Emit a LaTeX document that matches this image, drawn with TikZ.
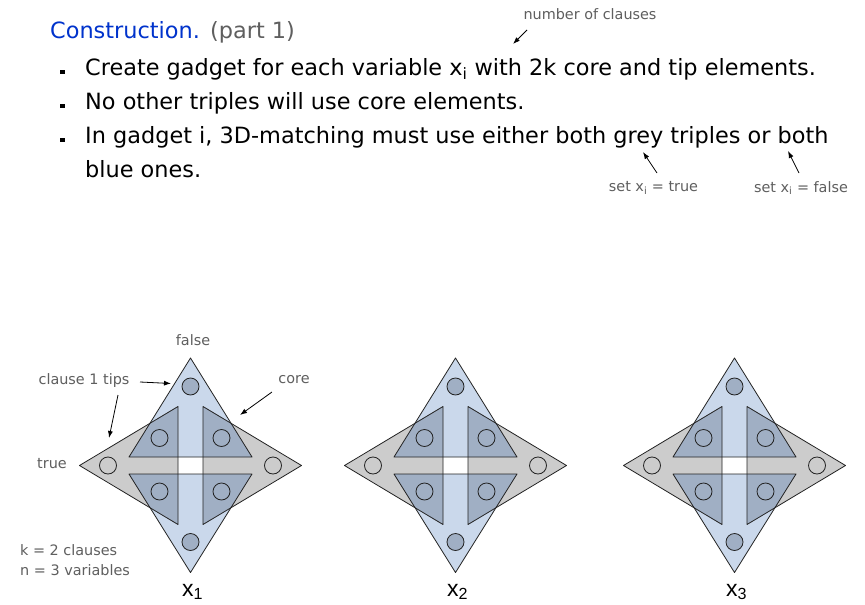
\documentclass[tikz,border=0pt]{standalone}
\usepackage{fontspec}
\setmainfont{DejaVu Sans}
\newfontfamily\arialf{Liberation Sans}
\usetikzlibrary{arrows.meta}
\definecolor{ltblue}{RGB}{202,216,235}
\definecolor{ltgray}{RGB}{204,204,204}
\definecolor{dkblue}{RGB}{160,175,196}
\definecolor{titleblue}{RGB}{0,51,204}
\definecolor{txtgray}{RGB}{95,95,95}
\definecolor{edgecol}{RGB}{35,35,35}
\tikzset{
  bigtext/.style={font=\fontsize{22.4}{24}\selectfont, text=black, inner sep=0pt, anchor=base west},
  smalltext/.style={font=\fontsize{14.4}{16}\selectfont, text=txtgray, inner sep=0pt},
  bulletbox/.style={fill=black, minimum size=4.5pt, inner sep=0pt},
  note/.style={-{Latex[length=7pt,width=5pt]}, line width=0.8pt, black},
  tipc/.style={circle, draw=edgecol, line width=0.8pt, minimum size=17pt, inner sep=0pt},
  tipdark/.style={tipc, fill=dkblue},
  outline/.style={draw=edgecol, line width=0.8pt, line join=round},
  varlabel/.style={font=\arialf\fontsize{23}{23}\selectfont, inner sep=0pt}
}
\begin{document}
\begin{tikzpicture}[x=1pt,y=-1pt]
\fill[white] (0,0) rectangle (865,605);
\useasboundingbox (0,0) rectangle (865,605);

% heading and bullets
\node[bigtext, text=titleblue] (title) at (50,38) {Construction.};
\node[bigtext, text=txtgray] (part) at (210,38) {(part 1)};
\node[bulletbox] (b1) at (62.5,72) {};
\node[bulletbox] (b2) at (62.5,106) {};
\node[bulletbox] (b3) at (62.5,140) {};
\node[bigtext] (l1) at (85,75) {Create gadget for each variable x\textsubscript{i} with 2k core and tip elements.};
\node[bigtext] (l2) at (85,109) {No other triples will use core elements.};
\node[bigtext] (l3) at (85,143) {In gadget i, 3D-matching must use either both grey triples or both};
\node[bigtext] (l4) at (85,177) {blue ones.};

\node[smalltext] (nclauses) at (590,14) {number of clauses};
\node[smalltext] (settrue) at (653.5,188) {set x\textsubscript{i} = true};
\node[smalltext] (setfalse) at (801,188) {set x\textsubscript{i} = false};
\coordinate (nca) at (527,30); \coordinate (ncb) at (513,44);
\coordinate (sta) at (657,173); \coordinate (stb) at (643,152);
\coordinate (sfa) at (799,173); \coordinate (sfb) at (788,151);
\draw[note] (nca) -- (ncb);
\draw[note] (sta) -- (stb);
\draw[note] (sfa) -- (sfb);

% gadgets
\foreach \cx/\n in {190.5/1,455.5/2,734.5/3}{
  \begin{scope}[shift={(\cx,465.5)}]
    \fill[ltblue] (0,-107.5) -- (-61.5,-8.5) -- (61.5,-8.5) -- cycle;
    \fill[ltblue] (0,107) -- (-61.5,8.5) -- (61.5,8.5) -- cycle;
    \fill[ltgray] (-111,0) -- (-12.5,-59) -- (-12.5,59) -- cycle;
    \fill[ltgray] (111,0) -- (12.5,-59) -- (12.5,59) -- cycle;
    \begin{scope}
      \clip (0,-107.5) -- (-61.5,-8.5) -- (61.5,-8.5) -- cycle;
      \fill[dkblue] (-111,0) -- (-12.5,-59) -- (-12.5,59) -- cycle;
      \fill[dkblue] (111,0) -- (12.5,-59) -- (12.5,59) -- cycle;
    \end{scope}
    \begin{scope}
      \clip (0,107) -- (-61.5,8.5) -- (61.5,8.5) -- cycle;
      \fill[dkblue] (-111,0) -- (-12.5,-59) -- (-12.5,59) -- cycle;
      \fill[dkblue] (111,0) -- (12.5,-59) -- (12.5,59) -- cycle;
    \end{scope}
    \path[outline] (0,-107.5) -- (-61.5,-8.5) -- (61.5,-8.5) -- cycle;
    \path[outline] (0,107) -- (-61.5,8.5) -- (61.5,8.5) -- cycle;
    \path[outline] (-111,0) -- (-12.5,-59) -- (-12.5,59) -- cycle;
    \path[outline] (111,0) -- (12.5,-59) -- (12.5,59) -- cycle;
    \node[tipdark] (top\n) at (0,-79) {};
    \node[tipdark] (bot\n) at (0,76.5) {};
    \node[tipc] (lft\n) at (-82.5,0) {};
    \node[tipc] (rgt\n) at (82.5,0) {};
    \node[tipdark] (cul\n) at (-31,-27.5) {};
    \node[tipdark] (cur\n) at (31,-27.5) {};
    \node[tipdark] (cll\n) at (-31,26) {};
    \node[tipdark] (clr\n) at (31,26) {};
  \end{scope}
  \node[varlabel] (xl\n) at (\cx+2,592) {x\textsubscript{\n}};
}

% gadget 1 annotations
\node[smalltext] (falselbl) at (193,340) {false};
\node[smalltext] (tipslbl) at (84,381) {clause 1 tips};
\node[smalltext] (corelbl) at (294,380) {core};
\node[smalltext] (truelbl) at (52,464) {true};
\node[smalltext, anchor=west] (klbl) at (20,550) {k = 2 clauses};
\node[smalltext, anchor=west] (nlbl) at (20,570) {n = 3 variables};
\coordinate (ta1) at (140,382); \coordinate (tb1) at (171,383.5);
\coordinate (ta2) at (118,395); \coordinate (tb2) at (109,438);
\coordinate (ca) at (272,392); \coordinate (cb) at (240,415);
\draw[note] (ta1) -- (tb1);
\draw[note] (ta2) -- (tb2);
\draw[note] (ca) -- (cb);
\end{tikzpicture}
\end{document}
